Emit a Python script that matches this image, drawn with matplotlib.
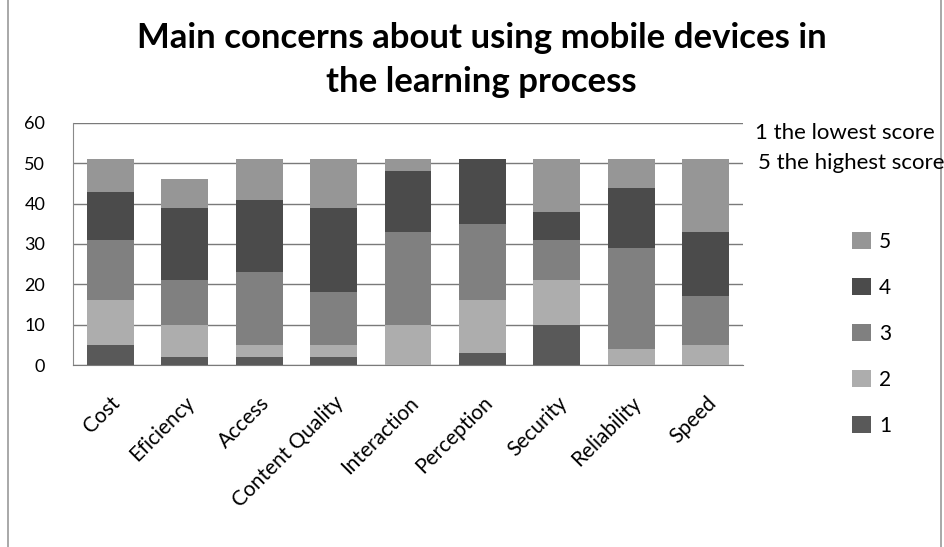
import numpy as np
import matplotlib.pyplot as plt
from matplotlib.lines import Line2D

plt.rcParams['font.family'] = ['Lato', 'DejaVu Sans']

categories = ['Cost', 'Eficiency', 'Access', 'Content Quality', 'Interaction',
              'Perception', 'Security', 'Reliability', 'Speed']
score_1 = [5, 2, 2, 2, 0, 3, 10, 0, 0]
score_2 = [11, 8, 3, 3, 10, 13, 11, 4, 5]
score_3 = [15, 11, 18, 13, 23, 19, 10, 25, 12]
score_4 = [12, 18, 18, 21, 15, 16, 7, 15, 16]
score_5 = [8, 7, 10, 12, 3, 0, 13, 7, 18]
series = [('1', score_1, '#595959'), ('2', score_2, '#adadad'),
          ('3', score_3, '#808080'), ('4', score_4, '#4b4b4b'),
          ('5', score_5, '#969696')]

W, H = 944, 547
fig = plt.figure(figsize=(W / 100, H / 100), dpi=100)
ax = fig.add_axes([73 / W, 1 - 365 / H, 670 / W, 242 / H])

x = np.arange(len(categories))
bottom = np.zeros(len(categories))
handles = []
for label, vals, color in series:
    b = ax.bar(x, vals, width=0.63, bottom=bottom, color=color, label=label, zorder=3)
    bottom += np.array(vals)
    handles.append(b)

ax.set_xlim(-0.5, len(categories) - 0.5)
ax.set_ylim(0, 60)
ax.set_yticks(range(0, 61, 10))
ax.grid(axis='y', color='#7a7a7a', linewidth=1.0, zorder=0)
for s in ['top', 'right']:
    ax.spines[s].set_visible(False)
ax.spines['left'].set_color('#8a8a8a')
ax.spines['bottom'].set_color('#7a7a7a')
ax.tick_params(axis='y', length=0, pad=20, labelsize=13)
ax.tick_params(axis='x', length=0, pad=20)
ax.set_xticks(x)
ax.set_xticklabels(categories, rotation=45, ha='right', rotation_mode='anchor',
                   fontsize=15)

fig.text(0.51, 1 - 48 / H, 'Main concerns about using mobile devices in',
         ha='center', va='baseline', fontsize=25, fontweight='bold')
fig.text(0.51, 1 - 92 / H, 'the learning process',
         ha='center', va='baseline', fontsize=25, fontweight='bold')

fig.text(755 / W, 1 - 133 / H, '1 the lowest score', ha='left', va='center', fontsize=16)
fig.text(758 / W, 1 - 163 / H, '5 the highest score', ha='left', va='center', fontsize=16)

fig.legend(handles[::-1], [s[0] for s in series[::-1]], loc='upper left',
           bbox_to_anchor=(833 / W, 1 - 213 / H), frameon=False,
           handlelength=0.9, handleheight=0.9, handletextpad=0.4,
           labelspacing=1.25, fontsize=15)

fig.add_artist(Line2D([8 / W, 8 / W], [0, 1], color='#9a9a9a', linewidth=1.2))
fig.add_artist(Line2D([941 / W, 941 / W], [0, 1], color='#9a9a9a', linewidth=1.2))

fig.savefig('out.png', dpi=100)
